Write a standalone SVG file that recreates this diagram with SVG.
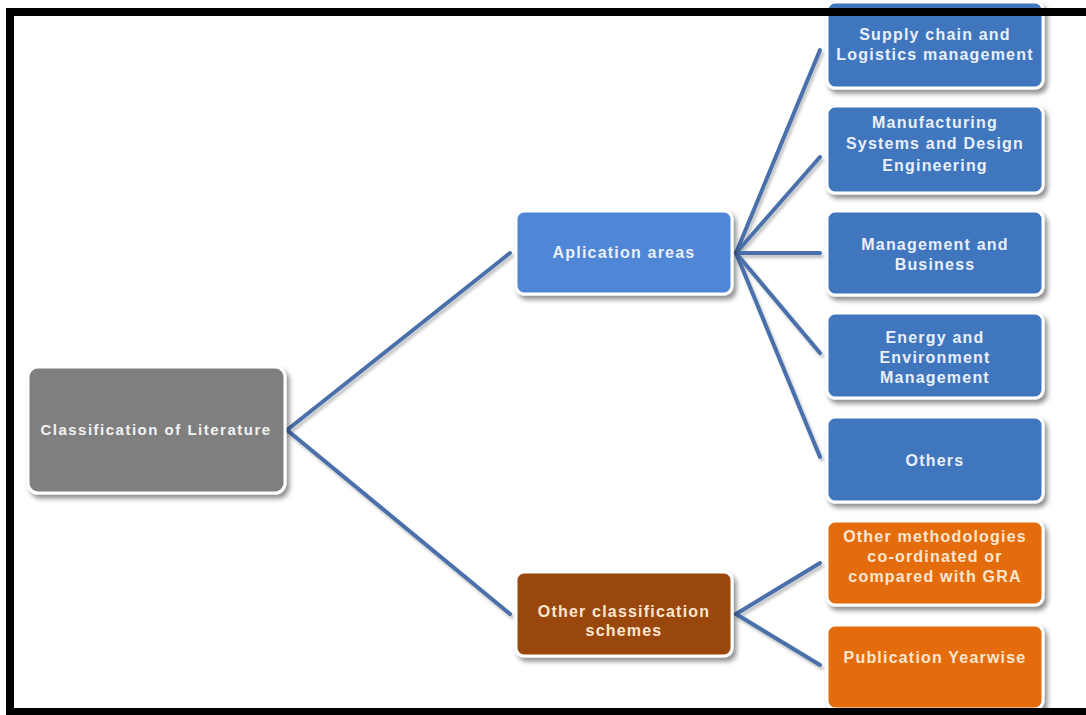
<svg xmlns="http://www.w3.org/2000/svg" width="1086" height="715" viewBox="0 0 1086 715">
<defs>
<filter id="sh" x="-10%" y="-10%" width="125%" height="130%">
<feGaussianBlur in="SourceAlpha" stdDeviation="2.5"/>
<feOffset dx="3" dy="4" result="b"/>
<feComponentTransfer><feFuncA type="linear" slope="0.45"/></feComponentTransfer>
<feMerge><feMergeNode/><feMergeNode in="SourceGraphic"/></feMerge>
</filter>
<filter id="lsh" x="-10%" y="-10%" width="120%" height="120%">
<feGaussianBlur in="SourceAlpha" stdDeviation="1.5"/>
<feOffset dx="2" dy="3" result="b"/>
<feComponentTransfer><feFuncA type="linear" slope="0.25"/></feComponentTransfer>
<feMerge><feMergeNode/><feMergeNode in="SourceGraphic"/></feMerge>
</filter>
</defs>
<style>
.box{stroke:#ffffff;stroke-width:3;filter:url(#sh)}
.gray{fill:#7f7f7f}
.lblue{fill:#4f86d6}
.dblue{fill:#4176bd}
.brown{fill:#9a470d}
.orange{fill:#e46c0a}
text{font-family:"Liberation Sans",Arial,sans-serif;font-weight:700;text-anchor:middle;letter-spacing:1.2px}
.tb{fill:#e9f0fb;font-size:16px}
.to{fill:#fbe6cf;font-size:16px}
.tg{fill:#f2f2f2;font-size:15px;letter-spacing:1.5px}
.conn line{stroke:#4a70aa;stroke-width:4;stroke-linecap:round}
</style>
<rect x="0" y="0" width="1086" height="715" fill="#ffffff"/>

<g id="connectors" class="conn" filter="url(#lsh)">
<line x1="287" y1="430" x2="510" y2="253"/>
<line x1="287" y1="430" x2="510" y2="614"/>
<line x1="736" y1="253" x2="820" y2="50"/>
<line x1="736" y1="253" x2="820" y2="157"/>
<line x1="736" y1="253" x2="820" y2="253"/>
<line x1="736" y1="253" x2="820" y2="353"/>
<line x1="736" y1="253" x2="820" y2="457"/>
<line x1="736" y1="614" x2="820" y2="563"/>
<line x1="736" y1="614" x2="820" y2="665"/>
</g>

<g id="n-classification">
<rect class="box gray" x="28" y="367" width="257" height="126" rx="10"/>
<text class="tg" x="156" y="435">Classification of  Literature</text>
</g>

<g id="n-application">
<rect class="box lblue" x="516" y="211" width="216" height="83" rx="8"/>
<text class="tb" x="624" y="258">Aplication areas</text>
</g>

<g id="n-otherclass">
<rect class="box brown" x="516" y="572" width="216" height="84" rx="8"/>
<text class="to" x="624" y="617">Other classification</text>
<text class="to" x="624" y="636">schemes</text>
</g>

<g id="n-supply">
<rect class="box dblue" x="827" y="2" width="216" height="86" rx="8"/>
<text class="tb" x="935" y="40">Supply chain and</text>
<text class="tb" x="935" y="60">Logistics management</text>
</g>

<g id="n-manufacturing">
<rect class="box dblue" x="827" y="106" width="216" height="87" rx="8"/>
<text class="tb" x="935" y="128">Manufacturing</text>
<text class="tb" x="935" y="149">Systems and  Design</text>
<text class="tb" x="935" y="171">Engineering</text>
</g>

<g id="n-management">
<rect class="box dblue" x="827" y="211" width="216" height="84" rx="8"/>
<text class="tb" x="935" y="250">Management and</text>
<text class="tb" x="935" y="270">Business</text>
</g>

<g id="n-energy">
<rect class="box dblue" x="827" y="313" width="216" height="85" rx="8"/>
<text class="tb" x="935" y="343">Energy and</text>
<text class="tb" x="935" y="363">Environment</text>
<text class="tb" x="935" y="383">Management</text>
</g>

<g id="n-others">
<rect class="box dblue" x="827" y="417" width="216" height="85" rx="8"/>
<text class="tb" x="935" y="466">Others</text>
</g>

<g id="n-othermethod">
<rect class="box orange" x="827" y="521" width="216" height="84" rx="8"/>
<text class="to" x="935" y="542">Other methodologies</text>
<text class="to" x="935" y="562">co-ordinated or</text>
<text class="to" x="935" y="582">compared with GRA</text>
</g>

<g id="n-publication">
<rect class="box orange" x="827" y="625" width="216" height="84" rx="8"/>
<text class="to" x="935" y="663">Publication Yearwise</text>
</g>

<g id="frame" fill="#000000">
<rect x="6" y="8" width="1080" height="8"/>
<rect x="6" y="8" width="8" height="707"/>
<rect x="6" y="708" width="1080" height="7"/>
</g>
</svg>
